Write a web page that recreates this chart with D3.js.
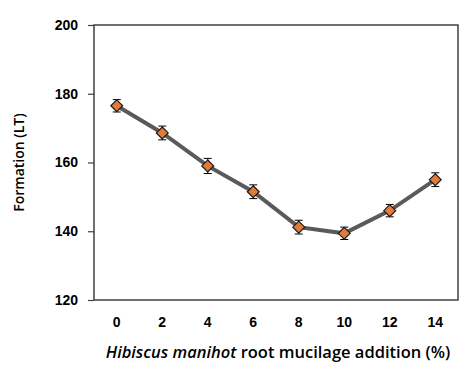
<!DOCTYPE html>
<html lang="en">
  <head>
    <script src="https://d3js.org/d3.v7.min.js"></script>
    <meta charset="utf-8">
    <title></title>
    <style>
      body { margin: 0; background: #fff; }
    </style>
  </head>
  <body>
    <svg id="chart"></svg>
    <script type="text/javascript">

     var categories = ["0", "2", "4", "6", "8", "10", "12", "14"];
     var values = [176.5, 168.6, 159.0, 151.5, 141.2, 139.4, 146.0, 155.0];
     var errors = [1.8, 2.0, 2.2, 2.0, 2.0, 1.8, 1.8, 2.0];
     var yTicks = [120, 140, 160, 180, 200];

     var width = 473;
     var height = 379;
     var margin = {left: 94, right: 15, top: 25, bottom: 79};

     var svg = d3.select("#chart")
       .attr("width", width)
       .attr("height", height)
       .style("font-family", "'Open Sans', 'Liberation Sans', sans-serif");

     var x = d3.scaleBand()
       .domain(categories)
       .range([margin.left, width - margin.right]);

     var y = d3.scaleLinear()
       .domain([120, 200])
       .range([height - margin.bottom, margin.top]);

     // frame
     svg.append("rect")
       .attr("x", margin.left)
       .attr("y", margin.top)
       .attr("width", width - margin.left - margin.right)
       .attr("height", height - margin.top - margin.bottom)
       .attr("fill", "none")
       .attr("stroke", "#404040")
       .attr("stroke-width", 1.5);

     var yAxis = svg.append("g")
       .attr("transform", "translate(" + margin.left + ",0)")
       .call(d3.axisLeft(y).tickValues(yTicks).tickSize(6).tickPadding(10));
     yAxis.select(".domain").remove();
     yAxis.selectAll("line").attr("stroke", "#404040").attr("stroke-width", 1.2);
     yAxis.selectAll("text")
       .attr("fill", "#000")
       .style("font-size", "14px")
       .style("font-weight", "bold");

     var xAxis = svg.append("g")
       .attr("transform", "translate(0," + (height - margin.bottom) + ")")
       .call(d3.axisBottom(x).tickSize(0).tickPadding(17));
     xAxis.select(".domain").remove();
     xAxis.selectAll("text")
       .attr("fill", "#000")
       .style("font-size", "14px")
       .style("font-weight", "bold");

     function cx(d, i) { return x(categories[i]) + x.bandwidth() / 2; }

     // line
     var line = d3.line()
       .x(function(d, i) { return cx(d, i); })
       .y(function(d) { return y(d); });

     svg.append("path")
       .datum(values)
       .attr("d", line)
       .attr("fill", "none")
       .attr("stroke", "#5a5a5a")
       .attr("stroke-width", 4);

     // error bars
     var eb = svg.selectAll(".err")
       .data(values)
       .enter()
       .append("g")
       .attr("class", "err");
     eb.append("line")
       .attr("x1", cx).attr("x2", cx)
       .attr("y1", function(d, i) { return y(d + errors[i]); })
       .attr("y2", function(d, i) { return y(d - errors[i]); })
       .attr("stroke", "#000").attr("stroke-width", 1);
     eb.append("line")
       .attr("x1", function(d, i) { return cx(d, i) - 4; })
       .attr("x2", function(d, i) { return cx(d, i) + 4; })
       .attr("y1", function(d, i) { return y(d + errors[i]); })
       .attr("y2", function(d, i) { return y(d + errors[i]); })
       .attr("stroke", "#000").attr("stroke-width", 1);
     eb.append("line")
       .attr("x1", function(d, i) { return cx(d, i) - 4; })
       .attr("x2", function(d, i) { return cx(d, i) + 4; })
       .attr("y1", function(d, i) { return y(d - errors[i]); })
       .attr("y2", function(d, i) { return y(d - errors[i]); })
       .attr("stroke", "#000").attr("stroke-width", 1);

     // markers
     svg.selectAll(".pt")
       .data(values)
       .enter()
       .append("path")
       .attr("class", "pt")
       .attr("d", d3.symbol().type(d3.symbolDiamond2).size(90))
       .attr("transform", function(d, i) { return "translate(" + cx(d, i) + "," + y(d) + ")"; })
       .attr("fill", "#e07b39")
       .attr("stroke", "#1a1a1a")
       .attr("stroke-width", 1.2);

     // axis titles
     svg.append("text")
       .attr("transform", "translate(24," + ((margin.top + height - margin.bottom) / 2) + ") rotate(-90)")
       .attr("text-anchor", "middle")
       .style("font-size", "14px")
       .style("font-weight", "600")
       .text("Formation (LT)");

     var xt = svg.append("text")
       .attr("x", (margin.left + width - margin.right) / 2 + 2)
       .attr("y", 358)
       .attr("text-anchor", "middle")
       .style("font-size", "16.5px")
       .style("font-weight", "600");
     xt.append("tspan").style("font-style", "italic").text("Hibiscus manihot");
     xt.append("tspan").text(" root mucilage addition (%)");

    </script>
  </body>
</html>
